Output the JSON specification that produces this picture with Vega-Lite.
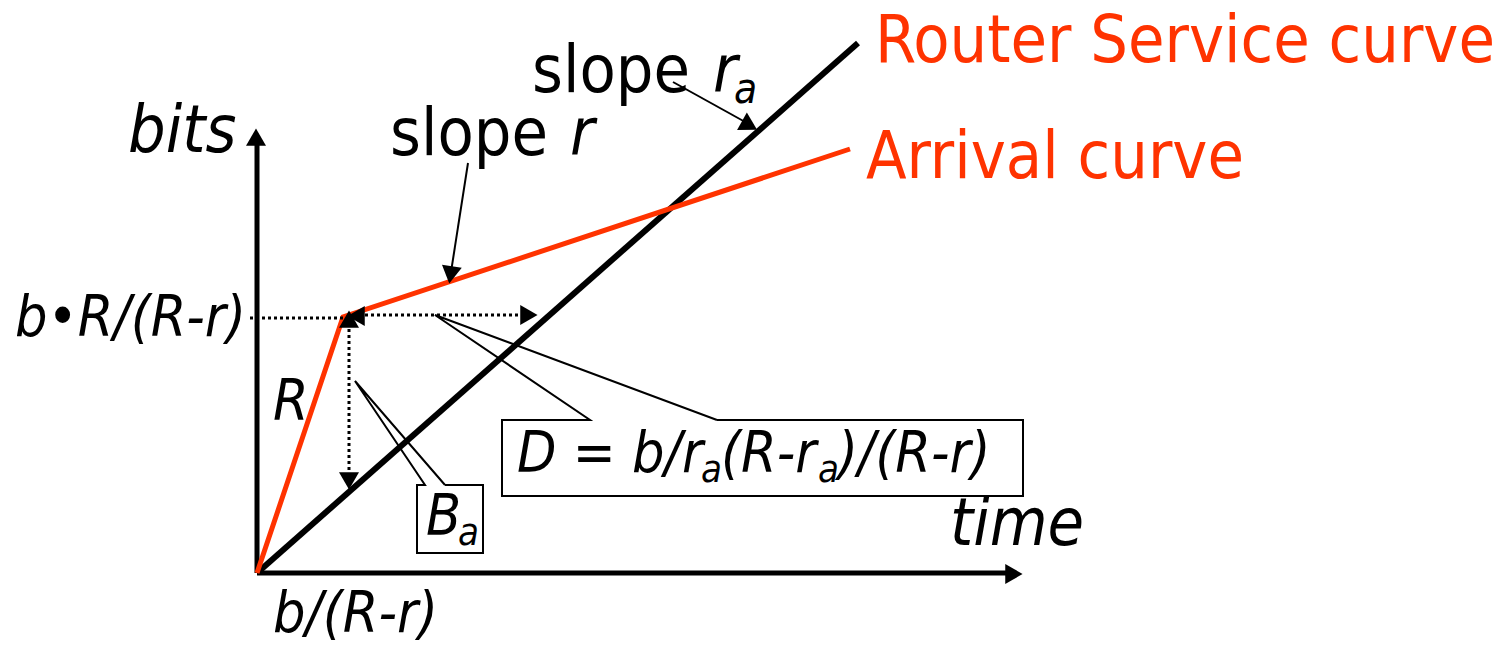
{
  "$schema": "https://vega.github.io/schema/vega-lite/v6.json",
  "width": 1497,
  "height": 646,
  "padding": 0,
  "autosize": {"type": "fit", "contains": "padding"},
  "background": "white",
  "config": {"view": {"stroke": null}},
  "datasets": {
    "paths": [
      {"kind": "axis", "id": "yaxis", "o": 0, "x": 0, "y": 0},
      {"kind": "axis", "id": "yaxis", "o": 1, "x": 0, "y": 432},
      {"kind": "axis", "id": "xaxis", "o": 0, "x": 0, "y": 0},
      {"kind": "axis", "id": "xaxis", "o": 1, "x": 752, "y": 0},
      {"kind": "service", "id": "service", "o": 0, "x": 0, "y": 0},
      {"kind": "service", "id": "service", "o": 1, "x": 601, "y": 530},
      {"kind": "arrival", "id": "arrival", "o": 0, "x": 0, "y": 0},
      {"kind": "arrival", "id": "arrival", "o": 1, "x": 86, "y": 256},
      {"kind": "arrival", "id": "arrival", "o": 2, "x": 593, "y": 424},
      {"kind": "callout", "id": "slope_r", "o": 0, "x": 211, "y": 410},
      {"kind": "callout", "id": "slope_r", "o": 1, "x": 194, "y": 301},
      {"kind": "callout", "id": "slope_ra", "o": 0, "x": 416, "y": 491},
      {"kind": "callout", "id": "slope_ra", "o": 1, "x": 490, "y": 450},
      {"kind": "callout", "id": "D", "o": 0, "x": 460, "y": 153},
      {"kind": "callout", "id": "D", "o": 1, "x": 766, "y": 153},
      {"kind": "callout", "id": "D", "o": 2, "x": 766, "y": 77},
      {"kind": "callout", "id": "D", "o": 3, "x": 245, "y": 77},
      {"kind": "callout", "id": "D", "o": 4, "x": 245, "y": 153},
      {"kind": "callout", "id": "D", "o": 5, "x": 333, "y": 153},
      {"kind": "callout", "id": "D", "o": 6, "x": 178, "y": 258},
      {"kind": "callout", "id": "D", "o": 7, "x": 460, "y": 153},
      {"kind": "callout", "id": "Ba", "o": 0, "x": 188, "y": 88},
      {"kind": "callout", "id": "Ba", "o": 1, "x": 226, "y": 88},
      {"kind": "callout", "id": "Ba", "o": 2, "x": 226, "y": 20},
      {"kind": "callout", "id": "Ba", "o": 3, "x": 160, "y": 20},
      {"kind": "callout", "id": "Ba", "o": 4, "x": 160, "y": 88},
      {"kind": "callout", "id": "Ba", "o": 5, "x": 168, "y": 88},
      {"kind": "callout", "id": "Ba", "o": 6, "x": 98, "y": 192},
      {"kind": "callout", "id": "Ba", "o": 7, "x": 188, "y": 88},
      {"kind": "dotted", "id": "h1", "o": 0, "x": -7, "y": 255},
      {"kind": "dotted", "id": "h1", "o": 1, "x": 86, "y": 255},
      {"kind": "dotted", "id": "h2", "o": 0, "x": 108, "y": 258},
      {"kind": "dotted", "id": "h2", "o": 1, "x": 264, "y": 258},
      {"kind": "dotted", "id": "v", "o": 0, "x": 92, "y": 244},
      {"kind": "dotted", "id": "v", "o": 1, "x": 92, "y": 98}
    ],
    "heads": [
      {"id": "yaxis", "x": -1, "y": 433, "angle": 0},
      {"id": "xaxis", "x": 754, "y": -1, "angle": 90},
      {"id": "slope_r", "x": 194, "y": 301, "angle": 188.7},
      {"id": "slope_ra", "x": 490, "y": 449, "angle": 119.3},
      {"id": "left", "x": 102, "y": 257, "angle": 270},
      {"id": "right", "x": 269, "y": 258, "angle": 90},
      {"id": "up", "x": 92, "y": 251, "angle": 0},
      {"id": "down", "x": 92, "y": 95, "angle": 180}
    ],
    "labels": [
      {"role": "curve", "t": "Router Service curve", "x": 618, "y": 511},
      {"role": "curve", "t": "Arrival curve", "x": 609, "y": 395},
      {"role": "word", "t": "slope", "x": 275, "y": 481},
      {"role": "word", "t": "slope", "x": 133, "y": 418},
      {"role": "var", "t": "r", "x": 456, "y": 481},
      {"role": "sub", "t": "a", "x": 477, "y": 470},
      {"role": "var", "t": "r", "x": 313, "y": 418},
      {"role": "var", "t": "bits", "x": -129, "y": 421},
      {"role": "var", "t": "time", "x": 693, "y": 28},
      {"role": "math", "t": "b•R/(R-r)", "x": -242, "y": 237},
      {"role": "math", "t": "R", "x": 16, "y": 153},
      {"role": "math", "t": "B", "x": 169, "y": 38},
      {"role": "msub", "t": "a", "x": 201, "y": 28},
      {"role": "math", "t": "D = b/r", "x": 260, "y": 101},
      {"role": "msub", "t": "a", "x": 444, "y": 91},
      {"role": "math", "t": "(R-r", "x": 464, "y": 101},
      {"role": "msub", "t": "a", "x": 561, "y": 91},
      {"role": "math", "t": ")/(R-r)", "x": 581, "y": 101},
      {"role": "math", "t": "b/(R-r)", "x": 16, "y": -59}
    ]
  },
  "encoding": {
    "x": {"field": "x", "type": "quantitative", "axis": null, "scale": {"domain": [-257, 1240], "nice": false, "zero": false}},
    "y": {"field": "y", "type": "quantitative", "axis": null, "scale": {"domain": [-73, 573], "nice": false, "zero": false}}
  },
  "layer": [
    {
      "data": {"name": "paths"},
      "transform": [{"filter": "datum.kind === 'axis'"}],
      "mark": {"type": "line", "color": "black", "strokeWidth": 5, "strokeCap": "butt", "clip": false},
      "encoding": {"detail": {"field": "id"}, "order": {"field": "o"}}
    },
    {
      "data": {"name": "paths"},
      "transform": [{"filter": "datum.kind === 'service'"}],
      "mark": {"type": "line", "color": "black", "strokeWidth": 6, "strokeCap": "butt"},
      "encoding": {"detail": {"field": "id"}, "order": {"field": "o"}}
    },
    {
      "data": {"name": "paths"},
      "transform": [{"filter": "datum.kind === 'arrival'"}],
      "mark": {"type": "line", "color": "#FF3300", "strokeWidth": 5, "strokeCap": "butt", "strokeJoin": "miter"},
      "encoding": {"detail": {"field": "id"}, "order": {"field": "o"}}
    },
    {
      "data": {"name": "paths"},
      "transform": [{"filter": "datum.kind === 'callout'"}],
      "mark": {"type": "line", "color": "black", "strokeWidth": 2, "strokeJoin": "miter"},
      "encoding": {"detail": {"field": "id"}, "order": {"field": "o"}}
    },
    {
      "data": {"name": "paths"},
      "transform": [{"filter": "datum.kind === 'dotted'"}],
      "mark": {"type": "line", "color": "black", "strokeWidth": 3, "strokeDash": [3, 3], "strokeCap": "butt"},
      "encoding": {"detail": {"field": "id"}, "order": {"field": "o"}}
    },
    {
      "data": {"name": "heads"},
      "mark": {"type": "point", "shape": "triangle", "filled": true, "color": "black", "opacity": 1, "size": 400, "strokeWidth": 0},
      "encoding": {"angle": {"field": "angle", "type": "quantitative", "scale": null}}
    },
    {
      "data": {"name": "labels"},
      "transform": [{"filter": "datum.role === 'curve'"}],
      "mark": {"type": "text", "align": "left", "baseline": "alphabetic", "font": "DejaVu Sans Condensed, Liberation Sans", "fontSize": 66, "color": "#FF3300"},
      "encoding": {"text": {"field": "t"}}
    },
    {
      "data": {"name": "labels"},
      "transform": [{"filter": "datum.role === 'word'"}],
      "mark": {"type": "text", "align": "left", "baseline": "alphabetic", "font": "DejaVu Sans Condensed, Liberation Sans", "fontSize": 66, "color": "black"},
      "encoding": {"text": {"field": "t"}}
    },
    {
      "data": {"name": "labels"},
      "transform": [{"filter": "datum.role === 'var'"}],
      "mark": {"type": "text", "align": "left", "baseline": "alphabetic", "font": "DejaVu Sans Condensed, Liberation Sans", "fontStyle": "italic", "fontSize": 66, "color": "black"},
      "encoding": {"text": {"field": "t"}}
    },
    {
      "data": {"name": "labels"},
      "transform": [{"filter": "datum.role === 'sub'"}],
      "mark": {"type": "text", "align": "left", "baseline": "alphabetic", "font": "DejaVu Sans Condensed, Liberation Sans", "fontStyle": "italic", "fontSize": 42, "color": "black"},
      "encoding": {"text": {"field": "t"}}
    },
    {
      "data": {"name": "labels"},
      "transform": [{"filter": "datum.role === 'math'"}],
      "mark": {"type": "text", "align": "left", "baseline": "alphabetic", "font": "DejaVu Sans Condensed, Liberation Sans", "fontStyle": "italic", "fontSize": 57, "color": "black"},
      "encoding": {"text": {"field": "t"}}
    },
    {
      "data": {"name": "labels"},
      "transform": [{"filter": "datum.role === 'msub'"}],
      "mark": {"type": "text", "align": "left", "baseline": "alphabetic", "font": "DejaVu Sans Condensed, Liberation Sans", "fontStyle": "italic", "fontSize": 38, "color": "black"},
      "encoding": {"text": {"field": "t"}}
    }
  ]
}
